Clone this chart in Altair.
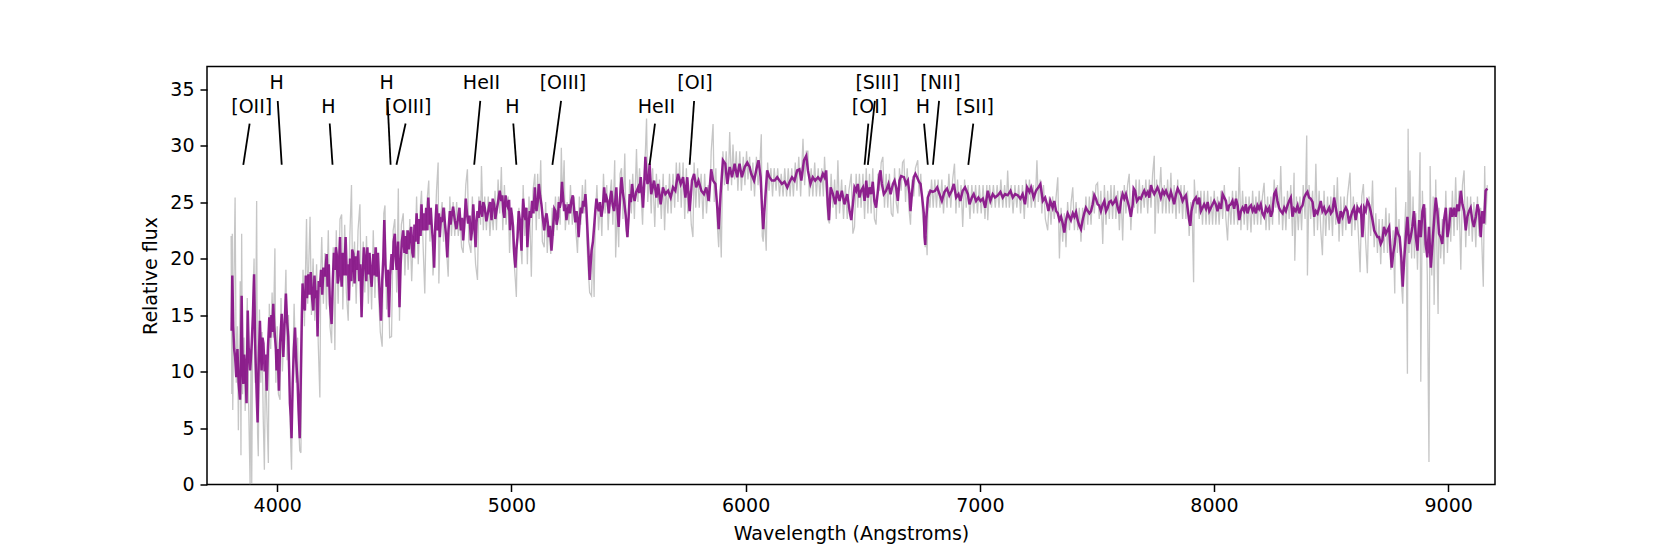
import altair as alt
import pandas as pd

# ---- smoothed spectrum (purple), (wavelength, flux) ----
purple_blue = [(3805,13.6),(3808,18.5),(3812,14.0),(3816,12.0),(3820,11.3),(3825,9.5),(3830,12.0),(3835,9.0),(3841,7.5),(3845,11.0),(3848,16.7),(3851,12.0),(3855,8.9),(3859,11.5),(3862,10.7),(3866,9.0),(3869,7.2),(3874,15.4),(3878,12.0),(3884,10.1),(3887,11.0),(3891,12.5),(3896,15.0),(3901,18.6),(3905,13.0),(3908,10.7),(3912,8.0),(3916,5.5),(3921,11.0),(3926,14.5),(3930,12.0),(3933,10.1),(3937,13.0),(3941,12.5),(3946,10.0),(3950,11.5),(3955,8.3),(3960,12.0),(3966,14.8),(3970,13.0),(3975,15.0),(3979,13.5),(3983,16.0),(3987,14.0),(3990,13.1),(3994,12.0),(3997,10.1),(4002,12.0),(4007,8.3),(4012,12.5),(4016,14.0),(4019,15.1),(4023,13.0),(4026,11.3),(4031,14.0),(4037,16.9),(4042,14.5),(4047,13.1),(4051,10.0),(4054,7.2),(4058,6.0),(4061,4.1),(4066,9.0),(4071,12.0),(4076,13.9),(4081,11.0),(4087,8.9),(4091,6.5),(4096,4.1),(4101,10.1),(4105,15.0),(4108,17.8),
               (4112,16.0),(4118,15.4),(4122,18.5),(4127,16.5),(4133,18.6),(4138,16.8),(4143,18.8),(4149,16.5),(4154,15.4),(4159,18.5),(4164,16.5),(4168,17.2),(4172,13.1),(4177,18.0),(4182,17.5),(4187,19.0),(4192,16.8),(4197,19.2),(4204,18.4),(4211,20.4),(4215,17.5),(4220,19.5),(4225,16.0),(4232,14.2),(4237,18.0),(4242,20.5),(4246,19.0),(4250,21.0),(4254,20.4),(4258,17.8),(4261,18.1),(4268,21.9),(4271,19.0),(4275,17.5),(4280,20.5),(4286,18.5),(4292,21.9),(4297,18.5),(4302,19.5),(4306,16.3),(4311,20.0),(4316,18.0),(4320,20.8),(4325,20.4),(4330,17.8),(4335,20.2),(4339,19.0),(4346,20.7),(4350,18.0),(4355,19.5),(4360,14.8),(4365,18.5),(4370,21.0),(4374,20.1),(4380,18.0),(4385,21.0),(4389,18.6),(4394,20.5),(4399,18.5),(4403,17.5),(4410,20.4),(4415,18.5),(4420,21.0),(4424,18.4),(4430,20.5),(4436,17.5),(4443,14.5),(4448,18.0),(4453,20.1),(4457,23.4),(4462,19.5),(4467,17.5),(4472,19.0),(4477,14.8),(4482,18.5),(4488,20.4),(4493,19.0),(4497,21.5),(4502,22.2),(4506,20.0),(4510,19.0),(4516,21.5),(4522,15.7),(4527,19.5),(4532,21.5),(4538,22.5),(4543,20.5),(4548,22.0),(4552,20.4),(4557,22.5),(4562,20.8),(4566,21.9),(4572,22.8),(4577,20.5),(4581,20.1),(4586,23.0),(4590,21.5),(4595,24.0),(4602,21.3),(4607,23.5),(4612,22.0),(4616,24.8),(4621,22.5),(4626,24.0),(4630,22.5),(4636,24.5),(4641,22.5),(4645,25.4),(4650,23.0),(4655,24.5),(4659,23.1),(4665,21.5),(4670,19.2),(4675,23.0),(4680,24.8),(4685,22.5),(4690,24.0),(4694,21.9),(4699,23.5)]
purple_green = [(4704,23.4),(4710,24.5),(4716,23.1),(4721,22.0),(4726,20.1),(4731,22.5),(4737,24.2),(4740,23.0),(4744,23.7),(4751,24.6),(4758,23.4),(4765,22.6),(4773,23.7),(4778,24.5),(4784,22.5),(4789,23.6),(4794,21.6),(4799,23.0),(4805,25.3),(4810,24.0),(4815,23.1),(4821,23.8),(4827,21.6),(4832,22.5),(4837,24.8),(4842,23.0),(4847,21.0),(4851,23.2),(4855,24.2),(4860,23.6),(4865,25.1),(4870,24.2),(4875,23.7),(4880,25.0),(4886,24.5),(4893,23.3),(4901,24.2),(4908,25.0),(4915,23.4),(4920,25.3),(4926,24.8),(4931,23.5),(4936,24.2),(4943,25.0),(4950,26.0),(4957,25.1),(4961,25.6),(4965,24.2),(4970,23.6),(4975,25.6),(4980,24.8),(4986,24.5),(4990,25.2),(4994,22.5),(4998,24.5),(5003,23.7),(5007,22.8),(5012,20.4),(5017,19.2),(5021,20.8),(5026,21.9),(5031,24.2),(5036,23.4),(5039,22.3),(5043,20.7),(5046,23.3),(5050,25.3),(5055,24.0),(5060,23.4),(5064,24.5),(5068,21.0),(5073,22.8),(5078,24.2),(5083,23.6),(5088,25.1),(5094,24.0),(5100,26.3),(5103,25.0),(5107,24.2),(5112,25.0),(5117,26.6),(5122,25.6),(5128,24.8),(5134,23.6),(5140,22.5),(5145,23.5),(5150,24.0),(5155,23.2),(5159,21.9),(5165,22.9),(5171,20.7),(5175,21.8),(5179,23.1),(5183,24.4),(5188,24.2),(5193,23.0),(5199,23.7),(5202,25.0),(5206,24.5),(5211,25.0),(5216,26.8),(5220,25.6),(5225,24.2),(5230,24.8),(5235,23.4),(5240,24.2),(5245,24.8),(5250,24.0),(5256,25.1),(5262,25.6),(5268,24.2),(5273,23.2),(5278,24.2),(5282,23.6),(5287,21.9),(5291,23.2),(5296,24.5),(5301,24.0),(5306,25.1),(5311,24.6),(5316,25.7),(5320,24.5),(5324,22.8),(5327,21.5),(5330,20.1),(5334,18.1),(5338,19.4),(5342,20.7),(5348,21.5),(5353,22.8),(5358,24.2),(5363,25.3),(5368,24.6),(5373,24.2),(5378,25.0),(5384,23.7),(5390,24.5),(5396,26.3),(5401,25.0),(5406,25.4),(5411,25.0),(5416,24.0),(5421,25.2),(5427,26.0),(5432,24.8),(5438,24.2),(5443,25.0),(5448,26.3),(5453,24.2),(5458,22.8),(5464,25.4),(5470,27.2),(5475,26.0),(5481,25.1),(5488,23.8),(5495,21.9),(5500,23.5),(5505,25.7),(5510,25.0),(5515,26.6),(5520,25.7),(5526,25.1),(5533,25.9),(5541,26.3),(5546,25.8),(5552,27.2),(5557,26.0),(5562,24.5),(5567,26.5),(5572,29.0),(5576,27.5),(5581,26.6),(5586,27.0),(5590,28.4)]
purple_yellow = [(5597,25.7),(5609,26.9),(5619,25.4),(5626,26.6),(5637,24.8),(5647,26.3),(5657,25.7),(5669,26.0),(5680,25.4),(5690,26.3),(5700,26.0),(5711,27.5),(5723,26.6),(5733,27.2),(5743,25.4),(5751,27.2),(5761,24.2),(5771,26.9),(5780,27.5),(5789,26.3),(5799,26.9),(5811,26.0),(5822,25.7),(5832,26.3),(5842,25.1),(5853,27.9),(5861,26.9),(5871,26.6),(5879,24.5),(5885,22.6),(5893,25.7),(5903,28.7),(5913,28.4),(5922,26.6),(5932,28.1),(5942,27.2),(5953,28.4),(5964,27.2),(5974,28.4),(5984,27.2),(5996,28.1),(6007,28.5),(6017,28.1),(6024,27.5),(6036,26.9),(6046,27.9),(6055,28.7),(6064,27.2),(6070,24.5),(6075,22.6),(6084,25.4),(6092,27.8),(6102,27.2),(6112,26.9),(6124,26.9),(6135,27.2),(6145,26.9),(6155,26.6),(6166,26.8),(6178,26.3),(6188,26.8),(6198,27.2),(6209,26.9),(6220,27.8),(6230,27.9),(6238,26.9),(6249,28.7),(6259,29.1),(6266,27.8),(6277,26.6),(6287,27.2),(6297,26.9),(6309,27.2),(6320,26.9),(6330,27.5),(6337,27.2),(6344,27.8),(6351,24.8),(6356,23.4),(6363,26.3),(6373,25.7),(6383,24.8),(6391,26.0),(6401,25.1),(6411,26.0),(6422,24.8),(6434,25.7),(6444,24.2),(6451,23.4),(6458,24.8)]
purple_red = [(6465,26.3),(6472,26.0),(6479,26.6),(6486,25.4),(6493,26.0),(6501,26.3),(6508,25.1),(6515,26.9),(6522,25.4),(6529,26.3),(6536,25.7),(6543,26.8),(6550,25.1),(6557,24.5),(6565,26.0),(6572,27.5),(6576,27.8),(6582,26.6),(6590,25.7),(6600,26.0),(6610,26.6),(6619,25.7),(6629,26.6),(6636,26.9),(6643,26.3),(6650,25.1),(6657,26.9),(6664,27.3),(6676,27.2),(6685,26.6),(6693,26.9),(6700,25.7),(6704,24.2),(6710,25.7),(6718,27.2),(6725,27.5),(6732,27.2),(6740,26.8),(6747,26.6),(6754,25.4),(6761,24.0),(6764,21.9),(6767,21.2),(6771,23.4),(6778,25.4),(6789,26.0),(6799,25.9),(6809,26.0),(6818,26.3),(6828,25.7),(6838,25.1),(6849,25.9),(6860,26.2),(6870,25.6),(6880,26.0),(6889,26.6),(6899,25.4),(6909,25.7),(6917,25.1),(6927,26.0),(6937,26.3),(6949,25.7),(6956,24.8),(6966,25.4),(6974,25.7),(6984,25.1),(6994,25.4),(7003,25.1),(7013,25.3),(7023,24.5),(7034,26.0),(7045,25.1),(7055,25.7),(7065,25.4),(7077,25.6),(7088,25.9),(7098,25.4),(7108,25.7),(7119,25.6),(7131,26.0),(7141,25.4),(7151,25.7),(7162,25.6),(7173,25.3),(7183,25.7),(7193,24.8),(7202,26.3),(7212,25.9),(7219,26.3),(7230,25.4),(7240,26.0),(7250,26.3),(7259,26.6),(7269,25.1),(7279,25.4),(7287,24.8),(7293,24.2),(7301,25.1),(7311,24.5),(7318,25.1),(7326,24.2),(7333,24.0),(7340,23.4),(7347,23.7),(7354,23.1),(7361,22.3),(7368,23.4),(7375,24.0)]
purple_nir = [(7389,23.4),(7397,24.0),(7404,23.7),(7411,24.1),(7418,23.4),(7425,22.9),(7432,22.6),(7439,23.4),(7446,24.0),(7453,24.5),(7461,24.2),(7468,24.0),(7475,24.2),(7482,24.8),(7489,25.6),(7496,25.3),(7503,24.8),(7510,24.7),(7517,24.2),(7525,24.8),(7532,25.1),(7539,24.2),(7546,24.5),(7553,25.0),(7560,25.1),(7567,24.8),(7574,25.0),(7581,25.3),(7589,24.5),(7596,24.0),(7603,25.1),(7610,25.7),(7617,25.3),(7624,25.7),(7631,25.1),(7638,24.5),(7645,23.7),(7653,24.8),(7657,26.2),(7663,26.0),(7671,25.1),(7681,25.4),(7688,25.3),(7695,25.7),(7702,26.0),(7709,25.6),(7717,25.9),(7724,25.4),(7731,26.5),(7738,26.0),(7745,25.7),(7752,26.0),(7759,26.3),(7766,25.9),(7773,25.4),(7781,26.0),(7788,25.7),(7795,26.0),(7802,25.6),(7809,25.3),(7816,25.9),(7823,25.4),(7830,24.8),(7838,25.7),(7845,26.2),(7852,25.9),(7859,25.6),(7866,25.1),(7873,25.4),(7880,25.6),(7887,24.5),(7894,23.4),(7899,22.9),(7904,24.2),(7913,25.1),(7923,25.4),(7930,24.8),(7937,25.4),(7944,24.2),(7951,24.5),(7958,24.8),(7966,24.4),(7973,25.0),(7980,24.2),(7987,24.5),(7994,24.8),(8001,25.1),(8008,24.8),(8015,24.2),(8022,24.8),(8030,24.4),(8037,25.7),(8044,25.4),(8051,25.1),(8058,24.2),(8065,24.7),(8072,24.8),(8079,25.1),(8086,24.4),(8094,25.3),(8101,24.7),(8108,23.4),(8115,24.2),(8122,24.5),(8129,24.2),(8136,24.8),(8143,24.0),(8150,24.5),(8158,24.7),(8165,24.2),(8172,24.5),(8179,24.0),(8186,24.7),(8193,24.4),(8200,24.8),(8207,24.0),(8214,23.7),(8222,24.5),(8229,24.2),(8236,24.5),(8243,23.7),(8250,24.2)]
purple_far = [(8257,25.7),(8264,26.0),(8271,25.1),(8278,24.5),(8285,24.2),(8293,24.0),(8300,24.5),(8307,24.2),(8314,24.7),(8321,25.1),(8328,25.4),(8335,23.7),(8342,24.4),(8349,24.2),(8357,24.7),(8364,24.0),(8371,24.5),(8378,24.7),(8385,25.4),(8392,25.7),(8399,25.9),(8406,25.4),(8413,25.3),(8421,25.0),(8428,23.7),(8435,24.2),(8442,24.0),(8449,24.5),(8456,25.1),(8463,24.2),(8470,24.5),(8477,24.0),(8485,24.2),(8492,24.5),(8499,24.0),(8506,24.2),(8513,25.4),(8520,24.5),(8527,23.7),(8534,23.1),(8541,24.2),(8549,23.7),(8556,24.2),(8563,24.5),(8570,24.2),(8577,23.1),(8584,23.7),(8591,24.2),(8598,24.5),(8605,23.4),(8613,24.5),(8620,24.2),(8627,24.5),(8634,21.9),(8641,24.5),(8648,24.2),(8655,25.1),(8662,24.8),(8669,24.2),(8677,23.4),(8684,22.5),(8691,22.2),(8698,21.9),(8705,21.9),(8712,21.3),(8719,21.6),(8726,22.8),(8734,22.2),(8741,22.5),(8748,22.8),(8755,20.4),(8759,19.2),(8765,20.4),(8772,21.3),(8779,22.8),(8786,22.2),(8793,21.9),(8800,20.1),(8806,17.5),(8812,19.8),(8819,21.9),(8826,23.7),(8833,21.3),(8840,21.9),(8847,22.8),(8854,24.2),(8862,21.9),(8869,20.7),(8876,23.4),(8883,21.9),(8890,24.2),(8897,24.8),(8904,21.3),(8911,20.1),(8918,22.8),(8926,19.2),(8933,21.3),(8940,23.4),(8947,25.4),(8954,24.2),(8961,22.2),(8968,21.9),(8975,21.3),(8982,23.4),(8990,24.5),(8997,21.9),(9004,22.8),(9011,24.5),(9018,23.7),(9025,24.5),(9032,23.7),(9039,24.8),(9046,24.2),(9054,26.0),(9061,24.8),(9068,24.2),(9075,22.5),(9082,23.7),(9089,24.2),(9096,24.5),(9103,23.4),(9110,22.8),(9118,23.7),(9125,24.8),(9132,24.2),(9139,21.9),(9146,24.2),(9153,23.1),(9160,26.0),(9167,26.2)]

# ---- raw spectrum (grey), (wavelength, flux) ----
grey_blue = [(3803,22.0),(3806,8.0),(3808,22.2),(3810,6.6),(3815,18.0),(3820,25.4),(3825,9.0),(3830,14.0),(3834,4.8),(3838,12.0),(3842,18.0),(3845,2.6),(3848,22.2),(3852,8.0),(3858,13.0),(3863,6.5),(3868,12.0),(3872,16.5),(3877,8.0),(3884,0.0),(3888,12.0),(3891,0.1),(3896,16.0),(3901,20.0),(3906,9.0),(3912,25.1),(3916,4.5),(3919,2.5),(3924,15.5),(3930,9.0),(3935,13.5),(3940,6.0),(3945,1.3),(3950,11.0),(3955,7.0),(3962,1.9),(3966,16.0),(3972,12.0),(3978,17.0),(3983,13.0),(3990,20.9),(3994,9.0),(4000,14.0),(4005,8.0),(4012,7.5),(4016,16.5),(4022,10.0),(4030,14.0),(4037,19.0),(4042,11.0),(4048,15.0),(4054,6.0),(4061,1.3),(4066,10.0),(4072,16.0),(4080,9.0),(4087,13.0),(4092,5.0),(4096,3.0),(4101,2.8),(4105,12.0),(4110,19.0),
             (4116,14.0),(4125,23.5),(4130,16.0),(4140,23.7),(4146,15.0),(4153,20.0),(4160,14.5),(4168,19.5),(4175,12.5),(4182,7.7),(4186,19.0),(4190,21.9),(4197,16.0),(4204,20.5),(4210,15.5),(4218,22.5),(4225,14.0),(4232,12.5),(4239,21.0),(4246,11.9),(4252,22.5),(4260,16.0),(4268,23.5),(4275,23.9),(4280,15.5),(4288,23.0),(4295,17.0),(4303,14.5),(4310,22.0),(4317,26.5),(4322,17.5),(4330,21.5),(4337,16.0),(4345,22.5),(4353,24.8),(4360,14.8),(4367,21.5),(4374,17.0),(4381,22.0),(4389,16.0),(4396,20.5),(4403,15.5),(4410,22.5),(4417,16.5),(4424,21.0),(4432,17.0),(4440,13.5),(4448,12.2),(4455,24.0),(4460,24.7),(4467,15.5),(4474,19.0),(4480,13.0),(4488,13.1),(4495,22.5),(4502,23.5),(4510,17.0),(4517,26.2),(4522,14.5),(4530,23.0),(4538,24.0),(4545,18.5),(4552,22.5),(4559,19.0),(4566,23.5),(4574,18.0),(4581,22.0),(4588,20.0),(4595,25.5),(4602,19.5),(4609,24.0),(4616,26.0),(4623,21.0),(4630,16.9),(4637,24.5),(4647,26.9),(4652,21.5),(4659,24.5),(4665,18.5),(4672,21.0),(4680,26.0),(4687,28.5),(4690,17.8),(4697,23.5)]
grey_green = [(4704,25.0),(4710,21.5),(4716,24.5),(4722,21.0),(4730,18.4),(4737,25.5),(4744,22.0),(4751,25.0),(4758,22.0),(4766,25.0),(4773,22.0),(4780,24.0),(4787,21.0),(4794,20.5),(4800,24.0),(4805,26.5),(4812,27.9),(4818,21.5),(4827,20.5),(4833,25.5),(4840,22.5),(4847,19.5),(4855,18.1),(4861,25.5),(4868,23.0),(4872,28.2),(4880,22.5),(4886,25.5),(4893,22.5),(4901,25.5),(4908,22.0),(4915,24.5),(4922,22.5),(4930,26.0),(4936,22.5),(4943,27.0),(4950,24.0),(4957,28.1),(4963,22.5),(4970,26.5),(4977,23.0),(4986,25.5),(4992,20.5),(5000,24.5),(5007,21.0),(5012,19.5),(5017,18.0),(5021,16.6),(5026,23.0),(5032,24.5),(5039,21.5),(5045,19.5),(5050,26.5),(5057,22.0),(5063,24.5),(5068,19.5),(5075,25.5),(5080,22.5),(5085,18.4),(5092,26.0),(5100,27.5),(5106,22.5),(5112,27.5),(5118,23.5),(5125,28.7),(5132,21.5),(5140,21.0),(5146,25.0),(5153,20.5),(5159,23.0),(5168,20.4),(5174,24.5),(5180,22.0),(5188,25.5),(5195,22.5),(5201,25.5),(5208,23.0),(5213,29.8),(5218,25.0),(5225,28.7),(5230,22.5),(5238,25.0),(5245,23.0),(5252,26.5),(5260,23.0),(5268,25.5),(5275,22.5),(5282,20.5),(5290,25.5),(5296,23.0),(5303,26.5),(5310,24.0),(5316,27.0),(5322,21.5),(5328,19.0),(5334,17.0),(5342,16.7),(5348,21.5),(5353,16.6),(5358,23.5),(5365,26.5),(5372,22.5),(5380,25.0),(5386,22.0),(5393,27.5),(5400,24.0),(5407,26.5),(5413,22.5),(5420,25.5),(5427,27.0),(5433,23.0),(5441,28.7),(5445,20.1),(5452,24.5),(5458,21.0),(5464,27.5),(5470,28.0),(5476,23.5),(5484,29.3),(5490,22.5),(5498,21.9),(5505,27.0),(5512,24.0),(5518,27.5),(5525,23.5),(5534,29.7),(5540,25.0),(5547,28.0),(5554,25.5),(5560,23.0),(5566,27.0),(5572,29.5),(5577,32.4),(5582,25.0),(5590,27.5),(5597,24.0)]
grey_yellow = [(5603,28.0),(5609,24.5),(5612,22.8),(5619,27.5),(5626,24.5),(5632,27.0),(5640,23.5),(5648,27.5),(5654,22.5),(5660,26.5),(5668,24.0),(5675,27.5),(5682,24.0),(5690,27.5),(5697,24.5),(5704,28.5),(5711,25.0),(5718,28.5),(5725,24.5),(5733,28.5),(5740,23.5),(5747,28.0),(5753,24.0),(5761,26.0),(5768,23.0),(5775,21.9),(5780,28.5),(5787,24.5),(5795,28.0),(5802,24.5),(5810,27.5),(5818,23.5),(5825,27.5),(5833,24.0),(5840,26.5),(5847,25.0),(5853,29.5),(5861,31.9),(5866,25.0),(5873,28.0),(5879,23.0),(5885,21.0),(5890,24.5),(5896,20.1),(5903,29.5),(5910,26.5),(5917,29.5),(5925,26.0),(5932,31.2),(5940,26.5),(5946,30.1),(5953,27.0),(5960,29.5),(5967,26.0),(5975,29.5),(5982,26.0),(5990,29.0),(5997,26.5),(6004,29.5),(6010,27.0),(6017,29.0),(6024,26.0),(6031,28.5),(6038,25.5),(6046,29.0),(6053,26.5),(6060,28.0),(6067,31.0),(6071,22.0),(6075,21.5),(6080,24.0),(6088,20.7),(6094,28.5),(6100,26.0),(6108,28.0),(6115,25.5),(6122,28.0),(6130,26.0),(6137,28.0),(6145,25.5),(6152,27.5),(6160,25.5),(6167,28.0),(6175,25.5),(6182,28.0),(6190,25.5),(6197,28.0),(6204,25.5),(6212,28.5),(6219,26.0),(6227,29.0),(6235,25.5),(6245,30.6),(6252,26.5),(6259,29.5),(6266,29.5),(6272,25.5),(6280,28.0),(6287,25.5),(6295,28.5),(6302,25.5),(6310,28.0),(6317,25.5),(6325,28.0),(6332,25.5),(6337,29.0),(6344,26.0),(6351,23.5),(6358,23.1),(6365,27.5),(6373,24.5),(6380,27.0),(6387,23.5),(6394,28.7),(6401,24.0),(6410,27.0),(6418,23.5),(6426,26.5),(6434,23.5),(6441,26.0),(6451,27.5),(6458,22.2)]
grey_red = [(6465,22.8),(6472,27.5),(6479,24.5),(6486,27.5),(6493,24.5),(6501,27.5),(6508,23.5),(6515,28.0),(6522,24.0),(6529,27.5),(6536,24.0),(6543,28.0),(6550,23.5),(6557,23.0),(6565,27.5),(6572,26.0),(6579,28.5),(6586,29.0),(6593,24.5),(6600,27.5),(6607,24.5),(6614,27.5),(6622,24.0),(6629,23.7),(6636,28.0),(6643,25.0),(6650,24.0),(6657,28.0),(6664,26.0),(6670,28.5),(6676,28.7),(6683,25.0),(6690,28.0),(6697,24.5),(6704,23.0),(6711,27.0),(6718,25.5),(6725,28.0),(6735,28.7),(6741,25.5),(6748,27.5),(6755,24.0),(6762,22.5),(6767,21.0),(6771,22.0),(6775,20.3),(6780,26.0),(6787,24.5),(6794,27.0),(6801,24.5),(6808,27.0),(6815,24.5),(6822,27.0),(6830,24.5),(6838,27.0),(6845,24.0),(6852,26.5),(6860,24.5),(6868,27.5),(6876,24.5),(6884,27.0),(6892,28.4),(6898,24.0),(6905,27.0),(6912,24.5),(6920,26.5),(6927,22.8),(6935,27.0),(6942,24.5),(6950,26.5),(6958,23.5),(6966,26.5),(6974,24.0),(6982,26.5),(6990,24.0),(6998,26.5),(7006,24.0),(7014,26.5),(7022,23.5),(7030,26.5),(7034,23.4),(7042,26.5),(7050,24.5),(7058,26.5),(7066,24.5),(7074,26.5),(7082,24.5),(7090,27.0),(7098,24.5),(7106,26.5),(7113,24.5),(7119,27.8),(7126,24.5),(7134,26.5),(7142,24.0),(7150,26.5),(7158,24.5),(7166,26.5),(7174,24.0),(7182,26.5),(7190,23.5),(7197,27.0),(7205,24.5),(7212,27.0),(7220,24.5),(7228,26.5),(7236,24.5),(7244,28.7),(7250,25.0),(7258,27.0),(7265,24.0),(7272,26.5),(7280,23.5),(7290,22.5),(7297,25.5),(7304,23.0),(7311,25.5),(7318,23.5),(7326,25.5),(7333,27.2),(7338,22.0),(7340,20.0),(7347,24.5),(7354,21.5),(7361,24.0),(7368,21.0)]
grey_nir = [(7375,25.0),(7383,22.5),(7390,25.0),(7397,26.3),(7404,22.5),(7411,25.0),(7418,22.5),(7425,24.5),(7432,21.5),(7439,24.5),(7446,22.5),(7453,25.5),(7461,23.0),(7468,25.5),(7475,23.0),(7482,26.0),(7489,24.0),(7496,26.5),(7503,26.7),(7510,23.5),(7517,26.0),(7525,21.3),(7532,26.5),(7539,23.0),(7546,26.0),(7553,23.5),(7560,26.5),(7567,23.5),(7574,26.5),(7581,23.5),(7589,26.0),(7596,22.5),(7603,26.0),(7610,21.6),(7617,26.5),(7624,24.0),(7631,26.5),(7638,27.5),(7645,22.5),(7653,26.0),(7660,24.5),(7667,27.0),(7674,24.0),(7681,27.0),(7688,24.0),(7695,26.5),(7702,24.5),(7709,27.0),(7717,24.0),(7724,27.0),(7731,24.5),(7738,27.5),(7745,29.1),(7748,22.2),(7755,27.0),(7762,24.0),(7773,28.1),(7780,24.0),(7788,26.5),(7795,24.0),(7802,27.0),(7809,24.0),(7816,27.6),(7823,24.0),(7830,26.5),(7838,23.5),(7845,27.0),(7852,24.0),(7859,26.5),(7866,23.5),(7873,26.5),(7880,23.5),(7887,26.0),(7894,22.0),(7901,25.0),(7908,23.0),(7913,17.9),(7916,27.0),(7923,24.0),(7930,26.0),(7937,23.5),(7944,26.0),(7951,23.0),(7958,26.0),(7966,23.0),(7973,26.0),(7980,23.0),(7987,25.5),(7994,23.0),(8001,26.0),(8008,23.0),(8015,25.5),(8022,23.0),(8030,26.0),(8037,23.5),(8044,26.5),(8051,23.5),(8058,21.6),(8065,25.5),(8072,23.0),(8079,26.0),(8086,23.0),(8094,26.0),(8101,23.0),(8108,28.1),(8115,22.5),(8122,26.0),(8129,23.0),(8136,25.5),(8143,22.5),(8150,25.5),(8158,22.3),(8165,26.0),(8172,23.0),(8179,25.5),(8186,23.0),(8193,26.0),(8200,23.0),(8207,25.5),(8214,26.7),(8222,22.5),(8229,25.5),(8236,22.5),(8243,25.5),(8250,23.0)]
grey_far = [(8257,27.0),(8264,24.5),(8271,26.5),(8278,23.0),(8285,28.2),(8293,22.5),(8300,25.5),(8307,22.5),(8314,26.0),(8321,23.5),(8328,26.5),(8335,22.0),(8342,27.6),(8345,19.8),(8352,25.5),(8360,22.5),(8367,25.5),(8374,22.5),(8381,26.5),(8389,23.5),(8396,30.9),(8399,18.5),(8406,26.5),(8413,23.5),(8421,26.0),(8428,22.0),(8435,28.4),(8442,22.5),(8449,26.0),(8456,22.5),(8463,20.3),(8470,26.0),(8477,22.0),(8485,25.5),(8492,22.5),(8499,25.5),(8506,22.0),(8513,26.5),(8520,23.0),(8527,27.2),(8534,21.5),(8541,25.5),(8549,22.0),(8556,25.5),(8563,22.5),(8570,25.5),(8581,27.6),(8588,22.0),(8595,25.5),(8602,22.5),(8610,25.0),(8617,22.0),(8624,18.8),(8631,25.5),(8638,26.6),(8645,22.5),(8655,18.7),(8662,25.5),(8669,22.0),(8677,26.9),(8684,21.0),(8691,24.0),(8698,20.5),(8705,23.5),(8712,19.5),(8719,23.5),(8726,20.5),(8734,24.5),(8741,20.5),(8748,24.0),(8755,19.0),(8765,22.5),(8772,16.9),(8776,26.3),(8783,20.5),(8790,23.5),(8797,19.0),(8806,16.0),(8812,21.5),(8819,25.0),(8826,9.8),(8829,31.5),(8833,20.5),(8837,27.8),(8844,20.0),(8850,25.5),(8856,20.0),(8862,24.0),(8869,19.0),(8876,25.0),(8880,29.4),(8883,9.1),(8890,26.0),(8897,20.5),(8904,24.5),(8911,18.5),(8918,2.0),(8923,28.2),(8930,18.5),(8936,25.5),(8940,15.9),(8947,27.0),(8957,15.1),(8961,24.5),(8968,20.0),(8975,23.5),(8982,19.5),(8990,26.0),(8997,20.5),(9004,24.5),(9011,21.5),(9018,26.0),(9025,22.0),(9032,27.2),(9039,22.5),(9046,26.0),(9054,19.0),(9061,26.5),(9068,27.8),(9075,21.0),(9082,25.5),(9089,22.0),(9096,25.5),(9103,21.5),(9110,25.0),(9118,21.0),(9125,25.5),(9132,22.0),(9139,24.5),(9146,20.0),(9150,17.5),(9156,28.2),(9160,23.0),(9167,26.5)]

# ---- line identifications ----
ann_label = ["[OII]", "H", "H", "H", "[OIII]", "HeII", "H", "[OIII]", "HeII", "[OI]", "[SIII]", "[OI]", "H", "[NII]", "[SII]"]
ann_text_wl = [3891, 3997, 4218, 4467, 4559, 4872, 5004, 5220, 5619, 5784, 6562, 6529, 6757, 6832, 6979]
ann_text_y = [33.45, 35.5, 33.45, 35.5, 33.45, 35.5, 33.45, 35.5, 33.45, 35.5, 35.5, 33.45, 33.45, 35.5, 33.45]
ann_top_wl = [3882, 4002, 4224, 4471, 4548, 4867, 5008, 5212, 5613, 5780, 6552, 6524, 6762, 6826, 6972]
ann_top_y = [31.95, 33.95, 31.95, 33.95, 31.95, 33.95, 31.95, 33.95, 31.95, 33.95, 33.95, 31.95, 31.95, 33.95, 31.95]
ann_pt_wl = [3855, 4019, 4236, 4484, 4509, 4841, 5021, 5175, 5590, 5761, 6522, 6508, 6778, 6800, 6951]
ann_pt_y = [28.3] * 15

x_ticks = [4000, 5000, 6000, 7000, 8000, 9000]
y_ticks = [0, 5, 10, 15, 20, 25, 30, 35]

purple = purple_blue + purple_green + purple_yellow + purple_red + purple_nir + purple_far
grey = grey_blue + grey_green + grey_yellow + grey_red + grey_nir + grey_far
df_p = pd.DataFrame(purple, columns=["wl", "flux"])
df_g = pd.DataFrame(grey, columns=["wl", "flux"])
df_a = pd.DataFrame({"label": ann_label, "tx": ann_text_wl, "ty": ann_text_y,
                     "x1": ann_top_wl, "y1": ann_top_y, "x2": ann_pt_wl, "y2": ann_pt_y})

FONT = "DejaVu Sans"
xs = alt.Scale(domain=[3700, 9200], nice=False, zero=False)
ys = alt.Scale(domain=[0, 37], nice=False)

xax = alt.Axis(title="Wavelength (Angstroms)", values=x_ticks, format="d", grid=False,
               tickSize=7, tickWidth=1.5, tickColor="black", labelPadding=5,
               labelFontSize=19, labelFont=FONT, labelColor="black",
               titleFontSize=19, titleFont=FONT, titleFontWeight="normal", titleColor="black",
               titlePadding=9, domain=False)
yax = alt.Axis(title="Relative flux", values=y_ticks, grid=False,
               tickSize=7, tickWidth=1.5, tickColor="black", labelPadding=6,
               labelFontSize=19, labelFont=FONT, labelColor="black",
               titleFontSize=19, titleFont=FONT, titleFontWeight="normal", titleColor="black",
               titlePadding=9, domain=False)

grey_line = alt.Chart(df_g).mark_line(color="#808080", opacity=0.45, strokeWidth=1.3).encode(
    x=alt.X("wl:Q", scale=xs, axis=xax),
    y=alt.Y("flux:Q", scale=ys, axis=yax),
)
purple_line = alt.Chart(df_p).mark_line(color="#800080", opacity=0.85, strokeWidth=2.5).encode(
    x=alt.X("wl:Q", scale=xs),
    y=alt.Y("flux:Q", scale=ys),
)
rules = alt.Chart(df_a).mark_rule(color="black", strokeWidth=1.8).encode(
    x=alt.X("x1:Q", scale=xs), y=alt.Y("y1:Q", scale=ys),
    x2="x2:Q", y2="y2:Q",
)
texts = alt.Chart(df_a).mark_text(font=FONT, fontSize=19, color="black",
                                  align="center", baseline="middle").encode(
    x=alt.X("tx:Q", scale=xs), y=alt.Y("ty:Q", scale=ys), text="label:N",
)

chart = alt.layer(grey_line, purple_line, rules, texts).properties(
    width=1288, height=418,
    autosize=alt.AutoSizeParams(type="none"),
    padding={"left": 199, "top": 58.5, "right": 150, "bottom": 60},
    background="white",
).configure_view(stroke="black", strokeWidth=1.5)

chart.save("out.html", embed_options={"renderer": "svg", "actions": False})
